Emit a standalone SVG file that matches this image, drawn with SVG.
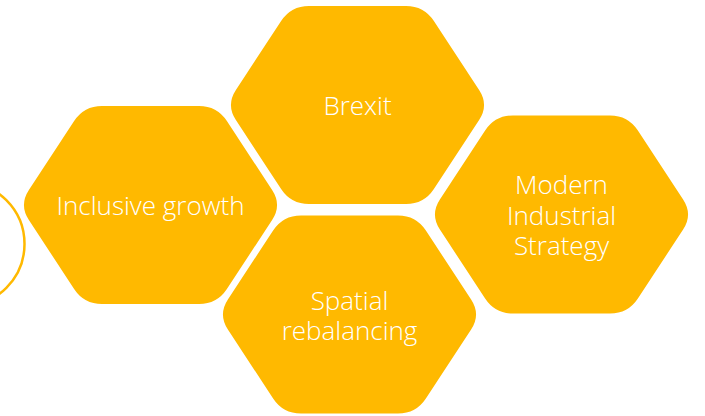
<svg xmlns="http://www.w3.org/2000/svg" width="705" height="416" viewBox="0 0 705 416">
<style>
.hex{fill:#FFB900}
.lbl{fill:#FFFFFF;font-family:"Open Sans","Noto Sans","Liberation Sans",sans-serif;font-weight:300;font-size:26px;text-anchor:middle}
.ring{fill:none;stroke:#FFB900;stroke-width:2.5}
</style>
<defs>
<path id="hexshape" d="M-121.62,-15.05 L-76.38,-83.95 Q-66.5,-99 -48.5,-99 L48.5,-99 Q66.5,-99 76.38,-83.95 L121.62,-15.05 Q131.5,0 121.62,15.05 L76.38,83.95 Q66.5,99 48.5,99 L-48.5,99 Q-66.5,99 -76.38,83.95 L-121.62,15.05 Q-131.5,0 -121.62,-15.05 Z"/>
</defs>
<circle class="ring" cx="-37.5" cy="244" r="62"/>
<g id="inclusive-growth">
<use href="#hexshape" class="hex" transform="translate(150.5,205)"/>
<text class="lbl" x="150.5" y="215">Inclusive growth</text>
</g>
<g id="brexit">
<use href="#hexshape" class="hex" transform="translate(357.5,105)"/>
<text class="lbl" x="357.5" y="115">Brexit</text>
</g>
<g id="modern-industrial-strategy">
<use href="#hexshape" class="hex" transform="translate(561.5,214.5)"/>
<text class="lbl" x="561.5" y="194">Modern</text>
<text class="lbl" x="561.5" y="224.5">Industrial</text>
<text class="lbl" x="561.5" y="255">Strategy</text>
</g>
<g id="spatial-rebalancing">
<use href="#hexshape" class="hex" transform="translate(349.5,314.5)"/>
<text class="lbl" x="349.5" y="310">Spatial</text>
<text class="lbl" x="349.5" y="339.5">rebalancing</text>
</g>
</svg>
